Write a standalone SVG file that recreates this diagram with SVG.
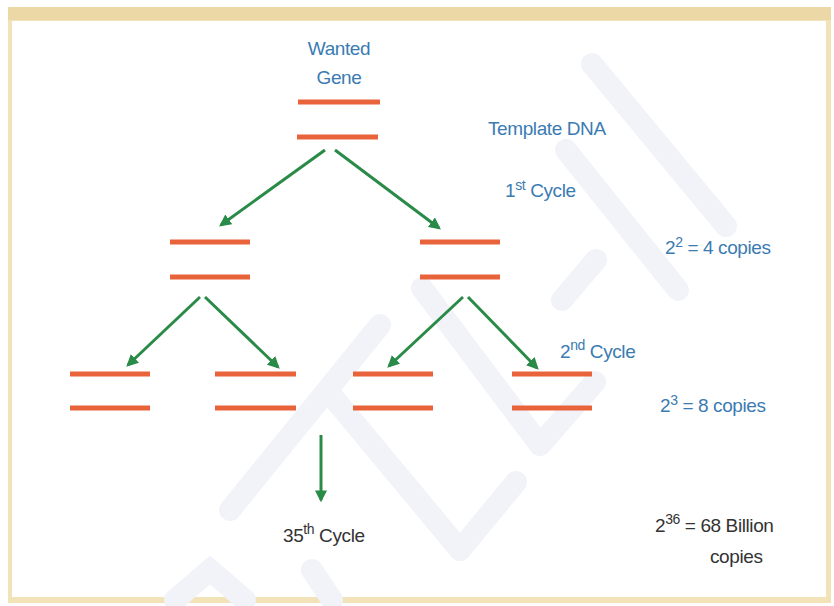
<svg xmlns="http://www.w3.org/2000/svg" width="834" height="606" viewBox="0 0 834 606">
<defs>
<style>
.bar{stroke:#e8623a;stroke-width:5;stroke-linecap:butt}
.arr{stroke:#2a8a47;stroke-width:3;fill:none;marker-end:url(#ah)}
.bl{font-family:"Liberation Sans",Arial,sans-serif;font-size:19px;letter-spacing:-0.4px;fill:#3a7bb2}
.dk{font-family:"Liberation Sans",Arial,sans-serif;font-size:19px;letter-spacing:-0.4px;fill:#333333}
.sup{font-size:14px}
.wm{stroke:#f1f3f9;stroke-width:22;stroke-linecap:round;fill:none}
</style>
<marker id="ah" viewBox="0 0 10 10" refX="8" refY="5" markerWidth="4" markerHeight="4" orient="auto" markerUnits="strokeWidth">
<path d="M0,0 L10,5 L0,10 z" fill="#2a8a47"/>
</marker>
</defs>
<rect x="0" y="0" width="834" height="606" fill="#ffffff"/>
<rect x="8" y="7" width="823" height="596" fill="#f1e2b8"/>
<rect x="12" y="21" width="814" height="576" fill="#ffffff"/>
<rect x="8" y="7" width="823" height="13" fill="#ecd8a6"/>
<g id="watermark">
<line class="wm" x1="592" y1="64" x2="726" y2="226"/>
<line class="wm" x1="566" y1="150" x2="678" y2="290"/>
<line class="wm" x1="596" y1="260" x2="562" y2="300"/>
<line class="wm" x1="380" y1="325" x2="230" y2="510"/>
<line class="wm" x1="332" y1="396" x2="460" y2="550"/>
<line class="wm" x1="516" y1="482" x2="460" y2="550"/>
<line class="wm" x1="422" y1="288" x2="540" y2="445"/>
<line class="wm" x1="595" y1="382" x2="540" y2="445"/>
<path class="wm" d="M175,600 L210,570 L245,600"/>
<line class="wm" x1="312" y1="570" x2="332" y2="600"/>
</g>
<g id="wanted-gene">
<text class="bl" x="339" y="55" text-anchor="middle">Wanted</text>
<text class="bl" x="339" y="84" text-anchor="middle">Gene</text>
<line class="bar" x1="298" y1="102" x2="380" y2="102"/>
<line class="bar" x1="297" y1="137" x2="378" y2="137"/>
</g>
<g id="labels-right">
<text class="bl" x="488" y="135">Template DNA</text>
<text class="bl" x="505" y="197">1<tspan class="sup" dy="-7">st</tspan><tspan dy="7"> Cycle</tspan></text>
<text class="bl" x="665" y="254">2<tspan class="sup" dy="-7">2</tspan><tspan dy="7"> = 4 copies</tspan></text>
<text class="bl" x="560" y="358">2<tspan class="sup" dy="-8">nd</tspan><tspan dy="8"> Cycle</tspan></text>
<text class="bl" x="660" y="412">2<tspan class="sup" dy="-7">3</tspan><tspan dy="7"> = 8 copies</tspan></text>
</g>
<g id="copy-l1">
<line class="bar" x1="170" y1="242" x2="250" y2="242"/>
<line class="bar" x1="170" y1="277" x2="250" y2="277"/>
</g>
<g id="copy-r1">
<line class="bar" x1="420" y1="242" x2="500" y2="242"/>
<line class="bar" x1="420" y1="277" x2="500" y2="277"/>
</g>
<g id="copy-a">
<line class="bar" x1="70" y1="374" x2="150" y2="374"/>
<line class="bar" x1="70" y1="408" x2="150" y2="408"/>
</g>
<g id="copy-b">
<line class="bar" x1="215" y1="374" x2="296" y2="374"/>
<line class="bar" x1="215" y1="408" x2="296" y2="408"/>
</g>
<g id="copy-c">
<line class="bar" x1="353" y1="374" x2="433" y2="374"/>
<line class="bar" x1="353" y1="408" x2="433" y2="408"/>
</g>
<g id="copy-d">
<line class="bar" x1="512" y1="374" x2="592" y2="374"/>
<line class="bar" x1="512" y1="408" x2="592" y2="408"/>
</g>
<g id="cycle35">
<text class="dk" x="283" y="542">35<tspan class="sup" dy="-8">th</tspan><tspan dy="8"> Cycle</tspan></text>
</g>
<g id="billion">
<text class="dk" x="655" y="532">2<tspan class="sup" dy="-8">36</tspan><tspan dy="8"> = 68  Billion</tspan></text>
<text class="dk" x="710" y="563">copies</text>
</g>
<g id="connectors">
<line class="arr" x1="325" y1="150" x2="221" y2="225"/>
<line class="arr" x1="335" y1="150" x2="439" y2="228"/>
<line class="arr" x1="200" y1="297" x2="128" y2="365"/>
<line class="arr" x1="205" y1="297" x2="278" y2="367"/>
<line class="arr" x1="463" y1="297" x2="389" y2="366"/>
<line class="arr" x1="468" y1="297" x2="537" y2="368"/>
<line class="arr" x1="321" y1="435" x2="321" y2="500"/>
</g>
</svg>
